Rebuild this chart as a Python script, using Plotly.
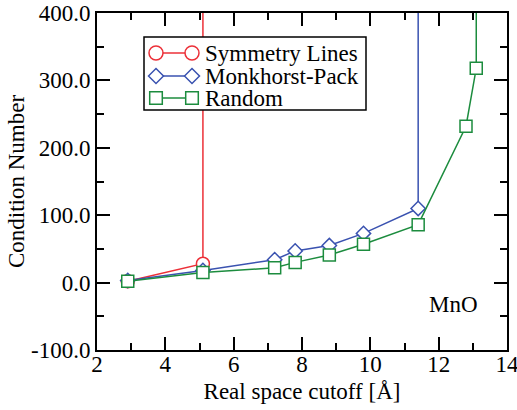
import plotly.graph_objects as go

# Data
sym_x = [2.9, 5.1, 5.1]
sym_y = [2.0, 28.0, 100000.0]

mp_x = [2.9, 5.1, 7.2, 7.8, 8.8, 9.8, 11.4, 11.4]
mp_y = [3.0, 18.0, 34.0, 47.0, 55.0, 73.0, 110.0, 100000.0]

rnd_x = [2.9, 5.1, 7.2, 7.8, 8.8, 9.8, 11.4, 12.8, 13.1, 13.1]
rnd_y = [2.0, 15.0, 22.0, 30.0, 41.0, 57.0, 86.0, 232.0, 318.0, 100000.0]

names = ["Symmetry Lines", "Monkhorst-Pack", "Random"]
colors = ["#ec3038", "#3a52b0", "#1c8c3e"]

y_ticks = [-100, 0, 100, 200, 300, 400]
y_ticktext = [f"{v:.1f}" for v in y_ticks]

FONT = "'Liberation Serif', 'Times New Roman', Times, serif"
FS = 23

fig = go.Figure()
fig.add_trace(go.Scatter(x=sym_x, y=sym_y, name=names[0], mode="lines+markers",
                         line=dict(color=colors[0], width=1.5),
                         marker=dict(symbol="circle", size=13, color="white",
                                     line=dict(width=1.5, color=colors[0]))))
fig.add_trace(go.Scatter(x=mp_x, y=mp_y, name=names[1], mode="lines+markers",
                         line=dict(color=colors[1], width=1.5),
                         marker=dict(symbol="diamond", size=11, color="white",
                                     line=dict(width=1.5, color=colors[1]))))
fig.add_trace(go.Scatter(x=rnd_x, y=rnd_y, name=names[2], mode="lines+markers",
                         line=dict(color=colors[2], width=1.5),
                         marker=dict(symbol="square", size=12, color="white",
                                     line=dict(width=1.5, color=colors[2]))))

axis_common = dict(showline=True, linecolor="black", linewidth=2, mirror="allticks",
                   ticks="inside", tickcolor="black", tickwidth=2, ticklen=13,
                   showgrid=False, zeroline=False, automargin=False,
                   tickfont=dict(family=FONT, size=FS, color="black"))

fig.update_xaxes(range=[2, 14], dtick=2, tick0=2, ticklabelstandoff=-8, ticklabeloverflow="allow",
                 minor=dict(dtick=1, ticks="inside", ticklen=7, tickwidth=2, tickcolor="black"),
                 title=dict(text="Real space cutoff [Å]", font=dict(family=FONT, size=FS, color="black"), standoff=7),
                 **axis_common)
fig.update_yaxes(range=[-100, 400], tickvals=y_ticks, ticktext=y_ticktext,
                 minor=dict(dtick=50, ticks="inside", ticklen=7, tickwidth=2, tickcolor="black"),
                 title=dict(text="Condition Number", font=dict(family=FONT, size=FS, color="black"), standoff=0),
                 **axis_common)

fig.add_annotation(x=12.42, y=-33, xref="x", yref="y", text="MnO", showarrow=False,
                   xanchor="center", yanchor="middle", font=dict(family=FONT, size=FS, color="black"))

# Custom legend (paper coordinates, plot area 410 x 337 px)
PW, PH = 410.0, 337.0
def px(X):
    return (X - 97) / PW
def py(Y):
    return (350 - Y) / PH

shapes = []
shapes.append(dict(type="rect", xref="paper", yref="paper", x0=px(144), x1=px(366), y0=py(110), y1=py(37),
                   line=dict(color="black", width=1.5), fillcolor="white", layer="above"))
rows_y = [53, 76, 98]
left_x, right_x = 156, 192
for i, (c, Y) in enumerate(zip(colors, rows_y)):
    shapes.append(dict(type="line", xref="paper", yref="paper", x0=px(left_x), x1=px(right_x),
                       y0=py(Y), y1=py(Y), line=dict(color=c, width=1.5), layer="above"))
    for X in (left_x, right_x):
        common = dict(xref="paper", yref="paper", xsizemode="pixel", ysizemode="pixel",
                      xanchor=px(X), yanchor=py(Y), line=dict(color=c, width=1.5),
                      fillcolor="white", layer="above")
        if i == 0:
            shapes.append(dict(type="circle", x0=-7, x1=7, y0=-7, y1=7, **common))
        elif i == 1:
            shapes.append(dict(type="path", path="M -7.5 0 L 0 7.5 L 7.5 0 L 0 -7.5 Z", **common))
        else:
            shapes.append(dict(type="rect", x0=-6.3, x1=6.3, y0=-6.3, y1=6.3, **common))
    fig.add_annotation(x=px(203), y=py(Y), xref="paper", yref="paper", text=names[i],
                       showarrow=False, xanchor="left", yanchor="middle",
                       font=dict(family=FONT, size=FS, color="black"))

fig.update_layout(
    width=517, height=410,
    margin=dict(l=97, r=10, t=13, b=60),
    paper_bgcolor="white", plot_bgcolor="white",
    showlegend=False,
    shapes=shapes,
)

fig.write_html("out.html", config={"displayModeBar": False},
               post_script="document.body.style.margin='0';document.body.style.overflow='hidden';")
